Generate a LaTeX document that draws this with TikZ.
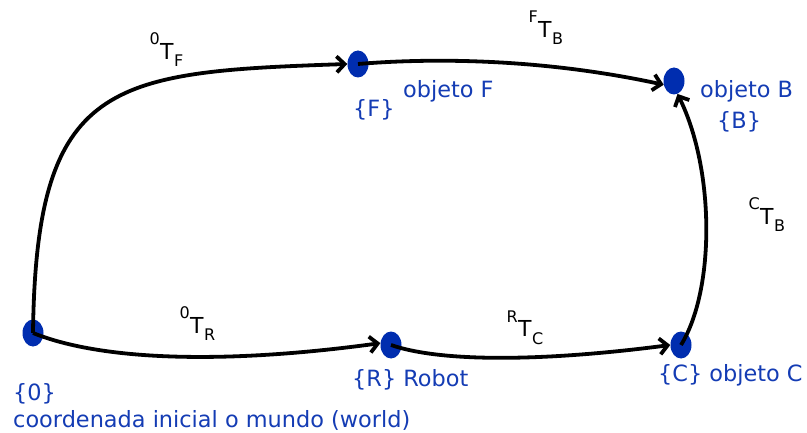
\documentclass[tikz,border=0pt]{standalone}
\usepackage{fontspec}
\setmainfont{DejaVu Sans}
\usetikzlibrary{arrows.meta,shapes.geometric}
\definecolor{dotblue}{RGB}{0,45,175}
\definecolor{txtblue}{RGB}{20,60,180}
\begin{document}
\begin{tikzpicture}[x=1pt,y=-1pt,
  frame/.style={ellipse, fill=dotblue, minimum width=21pt, minimum height=27pt, inner sep=0pt},
  conn/.style={line width=3.8pt, -{Straight Barb[length=8pt,width=16pt]}},
  tmain/.style={anchor=base west, inner sep=0pt, font=\fontsize{22}{22}\selectfont},
  tsup/.style={anchor=base east, inner sep=0pt, font=\fontsize{16}{16}\selectfont},
  tsub/.style={anchor=base west, inner sep=0pt, font=\fontsize{16}{16}\selectfont},
  btxt/.style={anchor=base west, inner sep=0pt, text=txtblue, font=\fontsize{22.4}{26}\selectfont}]
\useasboundingbox (0,0) rectangle (807,433);
% frames
\node[frame] (O) at (33,333) {};
\node[frame] (R) at (391,345) {};
\node[frame] (F) at (358,64) {};
\node[frame] (B) at (674,81) {};
\node[frame] (C) at (681,345) {};
% connectors
\draw[conn] (O.center) .. controls (36,80) and (110,72) .. (F.west);
\draw[conn] (F.center) .. controls (430,58) and (540,58) .. (B.200);
\draw[conn] (O.center) .. controls (100,360) and (220,365) .. (R.170);
\draw[conn] (R.center) .. controls (440,362) and (540,362) .. (C.west);
\draw[conn] (C.center) .. controls (715,290) and (715,170) .. (B.-75);
% transform labels
\node[tmain] (l0F) at (160,60) {T};
\node[tsup] (l0Fs) at ([yshift=15pt]l0F.base west) {0};
\node[tsub] (l0Fb) at ([yshift=-7pt]l0F.base east) {F};
\node[tmain] (lFB) at (538,38) {T};
\node[tsup] (lFBs) at ([yshift=15pt]lFB.base west) {F};
\node[tsub] (lFBb) at ([yshift=-7pt]lFB.base east) {B};
\node[tmain] (l0R) at (190,333) {T};
\node[tsup] (l0Rs) at ([yshift=15pt]l0R.base west) {0};
\node[tsub] (l0Rb) at ([yshift=-7pt]l0R.base east) {R};
\node[tmain] (lRC) at (518,337) {T};
\node[tsup] (lRCs) at ([yshift=15pt]lRC.base west) {R};
\node[tsub] (lRCb) at ([yshift=-7pt]lRC.base east) {C};
\node[tmain] (lCB) at (760,225) {T};
\node[tsup] (lCBs) at ([yshift=15pt]lCB.base west) {C};
\node[tsub] (lCBb) at ([yshift=-7pt]lCB.base east) {B};
% blue texts
\node[btxt] (t0) at (13,400) {\{0\}};
\node[btxt] (tw) at (13,427) {coordenada inicial o mundo (world)};
\node[btxt] (tR) at (352,386) {\{R\} Robot};
\node[btxt] (tF) at (353,117) {\{F\}};
\node[btxt] (toF) at (403,98) {objeto F};
\node[btxt] (toB) at (700,98) {objeto B};
\node[btxt] (tB) at (717,129) {\{B\}};
\node[btxt] (tC) at (658,381) {\{C\} objeto C};
\end{tikzpicture}
\end{document}
